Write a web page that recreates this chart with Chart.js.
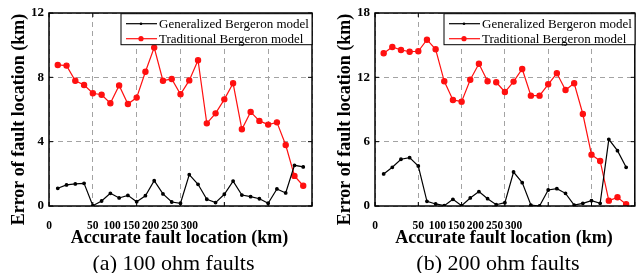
<!DOCTYPE html>
<html>
<head>
<meta charset="utf-8">
<script src="https://cdn.jsdelivr.net/npm/chart.js@4.4.1/dist/chart.umd.min.js"></script>
<style>
	html, body { margin: 0; padding: 0; background: #fff; overflow: hidden; width: 636px; height: 273px; }
	.panel { position: absolute; top: 0; }
</style>
</head>
<body>
<div class="panel" style="left:0"><canvas id="chart-a" width="318" height="273"></canvas></div>
<div class="panel" style="left:318px"><canvas id="chart-b" width="322" height="273"></canvas></div>
<script>
// fault positions (km)
const faultLocation = [10, 20, 30, 40, 50, 60, 70, 80, 90, 100, 110, 120, 130, 140, 150,
	160, 170, 180, 190, 200, 210, 220, 230, 240, 250, 260, 270, 280, 290];
const xTickLabels = ['0', '50', '100', '150', '200', '250', '300'];
const seriesNames = ['Generalized Bergeron model', 'Traditional Bergeron model'];

// (a) 100 ohm faults
const generalized100 = [1.10, 1.31, 1.37, 1.41, 0.02, 0.31, 0.79, 0.50, 0.66, 0.27, 0.64, 1.57, 0.75, 0.25, 0.17,
	1.95, 1.35, 0.42, 0.21, 0.73, 1.55, 0.68, 0.58, 0.45, 0.17, 1.06, 0.81, 2.53, 2.43];
const traditional100 = [8.77, 8.73, 7.79, 7.52, 7.01, 6.92, 6.39, 7.50, 6.34, 6.74, 8.35, 9.85, 7.79, 7.90, 6.95,
	7.81, 9.06, 5.14, 5.76, 6.63, 7.63, 4.77, 5.85, 5.29, 5.06, 5.20, 3.79, 1.87, 1.26];

// (b) 200 ohm faults
const generalized200 = [2.99, 3.61, 4.36, 4.51, 3.73, 0.44, 0.19, 0.03, 0.62, 0.03, 0.75, 1.34, 0.68, 0.12, 0.31,
	3.17, 2.18, 0.09, 0.00, 1.49, 1.62, 1.18, 0.09, 0.25, 0.50, 0.25, 6.22, 5.16, 3.61];
const traditional200 = [14.25, 14.83, 14.55, 14.39, 14.43, 15.51, 14.62, 11.63, 9.89, 9.73, 11.78, 13.27, 11.63, 11.54, 10.63,
	11.60, 12.78, 10.29, 10.29, 11.35, 12.38, 10.82, 11.45, 8.58, 4.79, 4.20, 0.50, 0.81, 0.16];
const traditional200Gaps = [12]; // line is broken between 130 and 140 km

const serif = '"Liberation Serif", "Times New Roman", serif';
const gridColor = '#a3a3a3';

// frame, inner ticks, legend and texts
let framePlugin = {
	id: 'frame',
	afterDraw(chart, args, opts) {
		const {ctx, chartArea: a, scales} = chart;
		ctx.save();

		// inner tick marks
		ctx.strokeStyle = '#000';
		ctx.lineWidth = 1;
		ctx.beginPath();
		scales.xg.ticks.forEach(t => {
			const px = scales.xg.getPixelForValue(t.value);
			ctx.moveTo(px, a.top); ctx.lineTo(px, a.top + 4);
			ctx.moveTo(px, a.bottom); ctx.lineTo(px, a.bottom - 4);
		});
		scales.y.ticks.forEach(t => {
			const py = scales.y.getPixelForValue(t.value);
			ctx.moveTo(a.left, py); ctx.lineTo(a.left + 4, py);
			ctx.moveTo(a.right, py); ctx.lineTo(a.right - 4, py);
		});
		ctx.stroke();

		// box
		ctx.lineWidth = 1.5;
		ctx.strokeRect(a.left, a.top, a.right - a.left, a.bottom - a.top);

		// legend
		const lw = 191, lh = 31;
		const lx = opts.legendRight - lw, ly = a.top + 0.7;
		ctx.fillStyle = '#fff';
		ctx.fillRect(lx, ly, lw, lh);
		ctx.lineWidth = 1;
		ctx.strokeStyle = '#000';
		ctx.strokeRect(lx, ly, lw, lh);
		chart.data.datasets.forEach((ds, i) => {
			const y = ly + 10 + i * 15;
			ctx.strokeStyle = ds.borderColor;
			ctx.lineWidth = ds.borderWidth;
			ctx.beginPath();
			ctx.moveTo(lx + 5, y); ctx.lineTo(lx + 36, y);
			ctx.stroke();
			ctx.fillStyle = ds.borderColor;
			ctx.beginPath();
			ctx.arc(lx + 20, y, ds.pointRadius, 0, Math.PI * 2);
			ctx.fill();
			ctx.fillStyle = '#000';
			ctx.font = '13px ' + serif;
			ctx.textAlign = 'left';
			ctx.textBaseline = 'middle';
			ctx.fillText(ds.label, lx + 38, y + 0.5);
		});

		// axis titles and caption
		const cx = (a.left + a.right) / 2;
		ctx.fillStyle = '#000';
		ctx.textAlign = 'center';
		ctx.textBaseline = 'middle';
		ctx.font = 'bold 18px ' + serif;
		ctx.fillText('Accurate fault location (km)', cx - 1, a.bottom + 32.5);
		ctx.font = '22px ' + serif;
		ctx.fillText(opts.caption, cx - 7, a.bottom + 58);
		ctx.save();
		ctx.translate(a.left - 30, (a.top + a.bottom) / 2 + 10);
		ctx.rotate(-Math.PI / 2);
		ctx.font = 'bold 18px ' + serif;
		ctx.fillText('Error of fault location (km)', 0, 0);
		ctx.restore();

		ctx.restore();
	}
};

let buildChart = (element, gen, trad, gaps, yMax, yStep, yWidth, padRight, legendRight, caption) => {
	const tickFont = {family: serif, weight: 'bold', size: 13};
	const data = {
		datasets: [
			{
				label: seriesNames[0],
				data: faultLocation.map((x, i) => ({x, y: gen[i]})),
				borderColor: '#000',
				backgroundColor: '#000',
				borderWidth: 1.2,
				pointRadius: 1.3,
			},
			{
				label: seriesNames[1],
				data: faultLocation.map((x, i) => ({x, y: trad[i]})),
				borderColor: '#ff1010',
				backgroundColor: '#ff1010',
				borderWidth: 1.2,
				pointRadius: 2.6,
				segment: {
					borderColor: ctx => gaps.includes(ctx.p0DataIndex) ? 'rgba(0,0,0,0)' : undefined,
				},
			}
		]
	};

	return new Chart(document.querySelector(element), {
		type: 'line',
		data,
		options: {
			responsive: false,
			animation: false,
			events: [],
			layout: {padding: {top: 13, right: padRight, left: 0, bottom: 0}},
			plugins: {
				legend: {display: false},
				tooltip: {enabled: false},
				frame: {caption, legendRight},
			},
			scales: {
				x: {
					type: 'linear', min: 0, max: 300,
					afterBuildTicks: s => { s.ticks = xTickLabels.map((t, i) => ({value: i ? 50 + (i - 1) * 22 : 0})); },
					afterFit: s => { s.height = 67; },
					ticks: {
						autoSkip: false, maxRotation: 0, padding: 5, color: '#000',
						font: {family: serif, weight: 'bold', size: 11.5},
						callback: (v, i) => xTickLabels[i],
					},
					grid: {display: false},
					border: {display: false},
				},
				xg: {
					type: 'linear', min: 0, max: 300, position: 'bottom',
					afterFit: s => { s.height = 0; },
					ticks: {display: false, stepSize: 50},
					grid: {color: gridColor, lineWidth: 1, drawTicks: false},
					border: {display: false, dash: [5, 4]},
				},
				y: {
					min: 0, max: yMax,
					afterFit: s => { s.width = yWidth; },
					ticks: {stepSize: yStep, padding: 5, color: '#000', font: tickFont},
					grid: {color: gridColor, lineWidth: 1, drawTicks: false},
					border: {display: false, dash: [5, 4]},
				},
			},
		},
		plugins: [framePlugin],
	});
};

var chartA = buildChart('#chart-a', generalized100, traditional100, [], 12, 4, 49, 6, 312, '(a) 100 ohm faults');
var chartB = buildChart('#chart-b', generalized200, traditional200, traditional200Gaps, 18, 6, 57, 2, 317, '(b) 200 ohm faults');
</script>
</body>
</html>
